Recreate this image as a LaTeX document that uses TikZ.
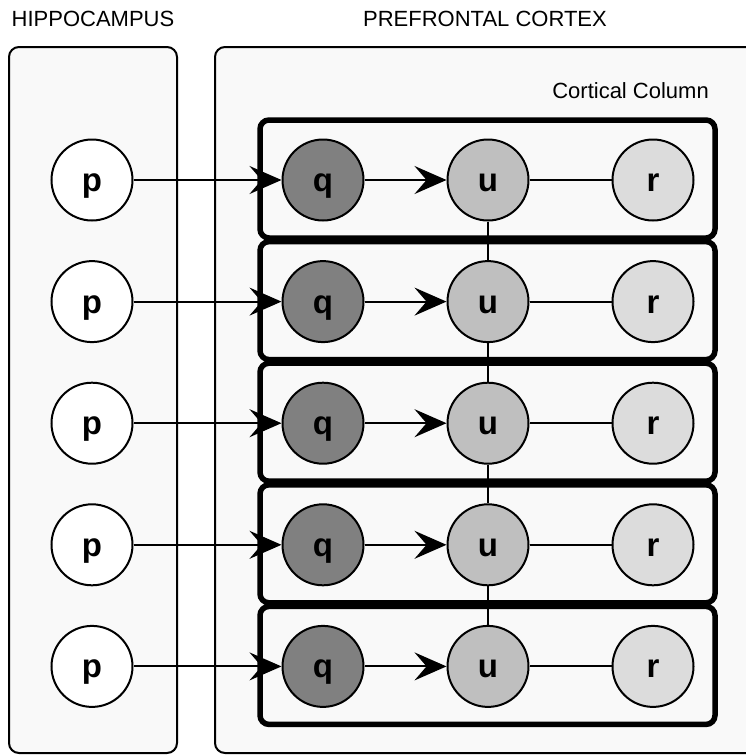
\documentclass[tikz,border=0pt]{standalone}
\usepackage{fontspec}
\setmainfont{Liberation Sans}
\usetikzlibrary{arrows.meta}
\definecolor{panelbg}{HTML}{F9F9F9}
\definecolor{qfill}{HTML}{808080}
\definecolor{ufill}{HTML}{BFBFBF}
\definecolor{rfill}{HTML}{DCDCDC}
\tikzset{
  panel/.style={draw=black, line width=2pt, fill=panelbg, rounded corners=10pt},
  rowbox/.style={draw=black, line width=5.5pt, fill=panelbg, rounded corners=9pt},
  var/.style={circle, draw=black, line width=2pt, minimum size=81pt, inner sep=0pt,
    text height=23pt, text depth=0pt,
    font=\fontsize{33}{36}\selectfont\bfseries},
  title/.style={inner sep=0pt, font=\fontsize{22}{26}\selectfont},
  link/.style={line width=2pt},
  arr/.style={line width=2pt, -{Stealth[length=32pt, width=28pt, inset=12pt]}}
}
\begin{document}
\begin{tikzpicture}[x=1pt, y=-1pt]
\useasboundingbox (0,0) rectangle (746,755);
\clip (0,0) rectangle (746,755);
\fill[white] (0,0) rectangle (746,755);
% titles
\node[title, anchor=base west] (th) at (11.5,26) {HIPPOCAMPUS};
\node[title, anchor=base] (tp) at (485,26) {PREFRONTAL CORTEX};
% panels
\draw[panel] (9,47) rectangle (177,753);
\draw[panel] (215,47) rectangle (790,753);
\node[title, anchor=base east] (tc) at (709,98.3) {Cortical Column};
% rows
\foreach \k in {1,...,5} {
  \pgfmathsetmacro{\cy}{180+121.6*(\k-1)}
  \draw[rowbox] (260,\cy-60) rectangle (715,\cy+58);
}
\foreach \k in {1,...,5} {
  \pgfmathsetmacro{\cy}{180+121.6*(\k-1)}
  \node[var, fill=white] (p\k) at (92,\cy) {p};
  \node[var, fill=qfill] (q\k) at (323,\cy) {q};
  \node[var, fill=ufill] (u\k) at (488,\cy) {u};
  \node[var, fill=rfill] (r\k) at (653,\cy) {r};
  \draw[arr] (p\k) -- (q\k);
  \draw[arr] (q\k) -- (u\k);
  \draw[link] (u\k) -- (r\k);
}
\foreach \a/\b in {1/2,2/3,3/4,4/5} {
  \draw[link] (u\a) -- (u\b);
}
\end{tikzpicture}
\end{document}
